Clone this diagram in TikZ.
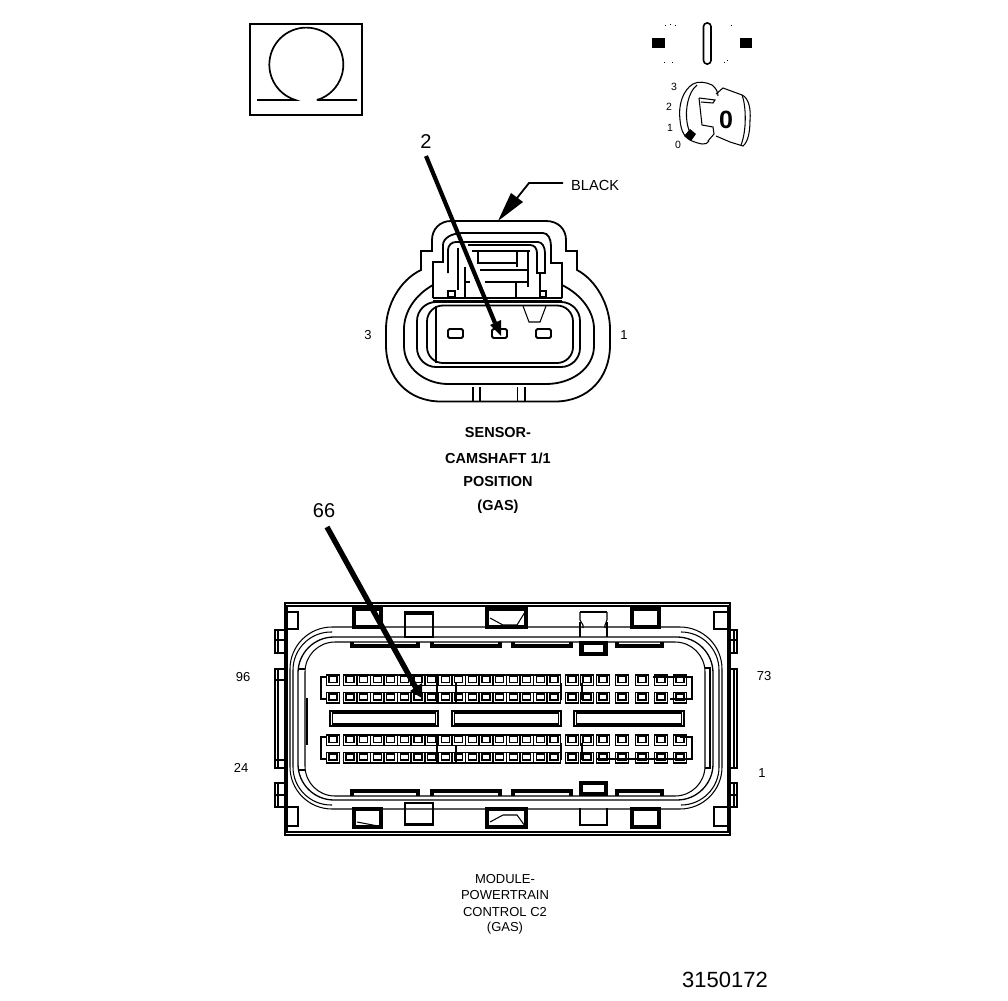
\documentclass[tikz,border=0pt]{standalone}
\usepackage{fontspec}
\setmainfont{Liberation Sans}
\tikzset{
  thin1/.style={line width=1.05pt,black},
  med/.style={line width=1.8pt,black},
  lab/.style={inner sep=0pt,font=\fontsize{13}{15}\selectfont},
  blab/.style={inner sep=0pt,font=\fontsize{14.5}{16}\selectfont\bfseries},
  small/.style={inner sep=0pt,font=\fontsize{10.5}{12}\selectfont},
}
\newcommand{\capTab}[4]{% x1 x2 y1 y2
  \draw[thin1] (#1,#3) rectangle (#2,#4);
  \draw[thin1] ({#1+2},{#3+2}) rectangle ({#2-2},{#4-2});
}
\begin{document}
\begin{tikzpicture}[x=1pt,y=-1pt,line join=miter]
\useasboundingbox (0,0) rectangle (1008,1000);
% ---------- Omega box
\draw[line width=2.2pt] (250,24) rectangle (362,115);
\draw[line width=1.7pt] (257,100) -- (295.5,100) arc[start angle=107,end angle=433,radius=37] (318,100) -- (357,100);
\draw[line width=1.7pt] (316.8,99.4) -- (318,100);
% ---------- Key symbol
\fill (652,38) rectangle (665,48);
\fill (740,38) rectangle (752,48);
\draw[line width=1.6pt,rounded corners=3.5pt] (703.5,23) rectangle (711,64);
\foreach \a/\b in {665/25,670/24,675/25,731/25,664/62,672/62,724/62,727/60}
  \fill (\a,\b) rectangle +(1.3,1.3);
\draw[thin1] (693,84) .. controls (683,90) and (678,105) .. (680,120) .. controls (681,132) and (685,138) .. (692,141)
   .. controls (700,144) and (706,146) .. (709,141);
\draw[thin1] (693,84) .. controls (698,81) and (706,82) .. (712,85) .. controls (716,88) and (718,92) .. (718,96);
\draw[thin1] (697,85) .. controls (688,92) and (685,110) .. (687,122) .. controls (688,128) and (689,132) .. (692,134);
\draw[thin1] (699,98) -- (715,100) -- (713,103) -- (701,102);
\draw[thin1] (699,98) -- (702,125) -- (713,127) -- (714,134) -- (708,141);
\draw[thin1] (716,94) -- (723,88) -- (742,95) .. controls (749,98) and (751,110) .. (750,120) .. controls (750,132) and (748,142) .. (743,146)
   -- (730,142) -- (716,136);
\draw[thin1] (742,95) .. controls (746,105) and (747,130) .. (741,145);
\fill (690,129) -- (696,134) -- (691,141) -- (684,136) -- cycle;
\node[inner sep=0pt,font=\fontsize{25}{27}\selectfont\bfseries] (keyzero) at (726,120) {0};
\node[small] (k3) at (674,87) {3};
\node[small] (k2) at (669,107) {2};
\node[small] (k1) at (670,128) {1};
\node[small] (k0) at (678,145) {0};
% ---------- Sensor connector: outer shell
\draw[med] (463,221) -- (546,221) .. controls (558,221) and (566,229) .. (566,240) -- (566,251) -- (577,251) -- (577,270)
  .. controls (596,280) and (610,305) .. (610,329) -- (610,345) .. controls (610,378) and (588,401.5) .. (555,401.5)
  -- (441,401.5) .. controls (408,401.5) and (386,378) .. (386,345) -- (386,329)
  .. controls (386,305) and (400,280) .. (421,270) -- (421,251) -- (432,251) -- (432,240) .. controls (432,229) and (440,221) .. (451,221) -- cycle;
% second shell
\draw[med] (433,285) .. controls (415,295) and (404,312) .. (404,329) -- (404,346) .. controls (404,368) and (425,384) .. (448,384)
  -- (546,384) .. controls (572,384) and (594,368) .. (594,346) -- (594,329) .. controls (594,312) and (582,295) .. (562,285);
% plug
\draw[med,rounded corners=19pt] (417,302) rectangle (580,367);
\draw[med,rounded corners=16pt] (427,305.5) rectangle (573,363);
\draw[thin1] (436,306) -- (436,363);
\draw[med,rounded corners=1.5pt] (448,329) rectangle (463,338);
\draw[med,rounded corners=1.5pt] (492,329) rectangle (507,338);
\draw[med,rounded corners=1.5pt] (536,329) rectangle (551,338);
\draw[thin1] (523,306) -- (529,322) -- (540,322) -- (546,306);
\foreach \a in {473,480,517.5,525} \draw[med] (\a,387) -- (\a,401);
% latch body
\draw[med] (433,298) -- (433,262) -- (443,262) -- (443,245) .. controls (443,238) and (452,233) .. (463,233) -- (543,233)
  .. controls (548,233) and (551,239) .. (551,246) -- (551,263) -- (562,263) -- (562,298);
\draw[med] (433,298) -- (562,298);
\draw[thin1] (433,301) -- (562,301);
\draw[thin1] (448,291) rectangle (455,297);
\draw[thin1] (540,291) rectangle (546,297);
\draw[med] (448,273) -- (448,250) .. controls (448,245) and (452,242) .. (456,242) -- (538,242) .. controls (542,242) and (545,247) .. (545,253) -- (545,273) -- (537,273) -- (537,253) .. controls (537,248) and (534,245) .. (530,245) -- (468,245);
\draw[thin1] (458,248) -- (458,290);
\draw[med] (465,267) -- (465,298);
\draw[med] (472,251) -- (530,251);
\draw[med] (478,251) -- (478,263) -- (517,263);
\draw[med] (517,251) -- (517,267);
\draw[med] (528,251) -- (528,287);
\draw[med] (480,270) -- (528,270);
\draw[med] (485,282) -- (528,282);
\draw[med] (516,282) -- (516,298);
\draw[thin1] (465,282) -- (470,282);
\draw[thin1] (540,273) -- (540,291);
% BLACK leader
\coordinate (bl0) at (563,183);
\coordinate (bl1) at (529,183);
\coordinate (bl2) at (517,198);
\coordinate (bltip) at (498,221);
\draw[med] (bl0) -- (bl1) -- (bl2);
\fill (bltip) -- (511,193) -- (523,202) -- cycle;
\node[inner sep=0pt,font=\fontsize{14.6}{16}\selectfont,anchor=west] (black) at (571,185.5) {BLACK};
% pin 2 arrow
\node[inner sep=0pt,font=\fontsize{20}{22}\selectfont] (n2) at (426,142) {2};
\coordinate (a2s) at (426,156);
\coordinate (a2e) at (495,323);
\coordinate (a2t) at (501,336);
\draw[line width=4.2pt] (a2s) -- (a2e);
\fill (a2t) -- (490,325) -- (501,320) -- cycle;
\node[lab] (p3) at (368,335) {3};
\node[lab] (p1) at (624,335) {1};
\node[blab] (s1) at (498,433) {SENSOR-};
\node[blab] (s2) at (498,458) {CAMSHAFT 1/1};
\node[blab] (s3) at (498,482) {POSITION};
\node[blab] (s4) at (498,507) {(GAS)};
% ---------- PCM connector
\draw[thin1] (285,603) rectangle (730,835);
\draw[thin1] (287,606) -- (728,606) -- (728,832) -- (287,832) -- cycle;
\foreach \a/\b in {287/298,714/728} {
  \draw[thin1] (\a,612) rectangle (\b,629);
  \draw[thin1] (\a,807) rectangle (\b,826);
}
% side tabs
\foreach \p/\q in {630/653,669/768,783/807} {
  \draw[thin1] (285,\p) -- (275,\p) -- (275,\q) -- (285,\q);
  \draw[thin1] (285,\p) -- (278,\p) -- (278,\q) -- (285,\q);
  \draw[thin1] (730,\p) -- (737,\p) -- (737,\q) -- (730,\q);
  \draw[thin1] (730,\p) -- (734,\p) -- (734,\q) -- (730,\q);
}
\draw[thin1] (275,640) -- (285,640); \draw[thin1] (275,795) -- (285,795);
\draw[thin1] (730,640) -- (737,640); \draw[thin1] (730,795) -- (737,795);
\draw[thin1] (275,680) -- (285,680); \draw[thin1] (275,760) -- (285,760);
% rounded seal
\draw[thin1,rounded corners=42pt] (290,627) rectangle (722,809);
\draw[thin1,rounded corners=38pt] (332,632) -- (293,632) -- (293,805) -- (332,805);
\draw[thin1,rounded corners=38pt] (682,632) -- (719,632) -- (719,805) -- (682,805);
\draw[line width=1.3pt,rounded corners=36pt] (298,637) rectangle (713,800);
\draw[thin1,rounded corners=30pt] (305,642) rectangle (705,796);
\draw[thin1] (298,669) -- (305,669); \draw[thin1] (298,770) -- (305,770);
\draw[thin1] (307,698) -- (307,745); \draw[thin1] (705,668) -- (710,668) -- (710,768) -- (705,768);
% ribs top & bottom
\foreach \a/\b in {351/419,431/501,512/572,616/663} {
  \draw[thin1] (\a,642) -- (\a,647) -- (\b,647) -- (\b,642);
  \draw[thin1] ({\a+2},642) -- ({\a+2},645) -- ({\b-2},645) -- ({\b-2},642);
  \draw[thin1] (\a,796) -- (\a,790) -- (\b,790) -- (\b,796);
  \draw[thin1] ({\a+2},796) -- ({\a+2},792) -- ({\b-2},792) -- ({\b-2},796);
}
% tabs
\capTab{353}{382}{608}{628}
\draw[thin1] (405,612) rectangle (433,637); \draw[thin1] (405,614) -- (433,614);
\capTab{486}{527}{608}{628}
\draw[thin1] (490,618) -- (503,625) -- (517,625) -- (525,612);
\draw[thin1] (580,612) -- (607,612); \draw[thin1] (580,622) -- (580,637); \draw[thin1] (607,622) -- (607,637);
\draw[thin1] (580,612) -- (580,620) -- (583,625) -- (583,628); \draw[thin1] (607,612) -- (607,620) -- (605,625) -- (605,628);
\capTab{580}{607}{642}{655}
\draw[thin1] (583,642) -- (583,653); \draw[thin1] (604,642) -- (604,653);
\capTab{631}{660}{608}{628}
\capTab{353}{382}{808}{828}
\draw[thin1] (357,822) -- (378,826);
\draw[thin1] (405,803) rectangle (433,825); \draw[med] (405,824) -- (433,824);
\capTab{486}{527}{808}{828}
\draw[thin1] (490,822) -- (503,815) -- (517,815) -- (525,826);
\capTab{580}{607}{782}{795}
\draw[thin1] (580,808) -- (580,825) -- (607,825) -- (607,808); \draw[med] (580,824.5) -- (607,824.5);
\capTab{631}{660}{808}{828}
% slots
\foreach \a/\b in {330/438,452/561,574/684} {
  \draw[thin1] (\a,711) rectangle (\b,726);
  \draw[thin1] ({\a+2.5},713) rectangle ({\b-2.5},724);
}
% terminals
\def\cols{333,350,363.6,377.2,390.8,404.4,418,431.6,445.2,458.8,472.4,486,499.6,513.2,526.8,540.4,554,572,587,603,622,642,661,680}
\foreach \r in {675,692.5,735,752.5} {
  \foreach \c in \cols {
    \draw[thin1] ({\c-6.5},\r) rectangle ({\c+6.5},{\r+10.5});
    \draw[thin1] ({\c-4},{\r+1.5}) rectangle ({\c+4},{\r+7.5});
  }
}
% brackets
\draw[med] (327,677) -- (321,677) -- (321,699) -- (327,699);
\draw[med] (327,737) -- (321,737) -- (321,759) -- (327,759);
\draw[med] (653,677) -- (692,677) -- (692,699) -- (670,699);
\draw[med] (680,737) -- (692,737) -- (692,759) -- (597,759);
\draw[med] (561,683) -- (561,700); \draw[med] (582,683) -- (582,700);
\draw[med] (561,743) -- (561,760); \draw[med] (582,743) -- (582,760);
\draw[thin1] (437,675) -- (437,703); \draw[thin1] (456,683) -- (456,703);
\draw[thin1] (437,735) -- (437,763); \draw[thin1] (456,745) -- (456,763);
% 66 arrow
\node[inner sep=0pt,font=\fontsize{20}{22}\selectfont] (n66) at (324,511) {66};
\coordinate (a66s) at (327,527);
\coordinate (a66e) at (416,688);
\draw[line width=5.4pt] (a66s) -- (a66e);
\fill (422,698) -- (410,691) -- (422,683) -- cycle;
\node[lab] (l96) at (243,677) {96};
\node[lab] (l24) at (241,768) {24};
\node[lab] (l73) at (764,676) {73};
\node[lab] (l1) at (762,773) {1};
\node[lab] (m1) at (505,879) {MODULE-};
\node[lab] (m2) at (505,895) {POWERTRAIN};
\node[lab] (m3) at (505,912) {CONTROL C2};
\node[lab] (m4) at (505,928) {(GAS)};
\node[inner sep=0pt,font=\fontsize{22}{24}\selectfont] (fig) at (725,980) {3150172};
\end{tikzpicture}
\end{document}
